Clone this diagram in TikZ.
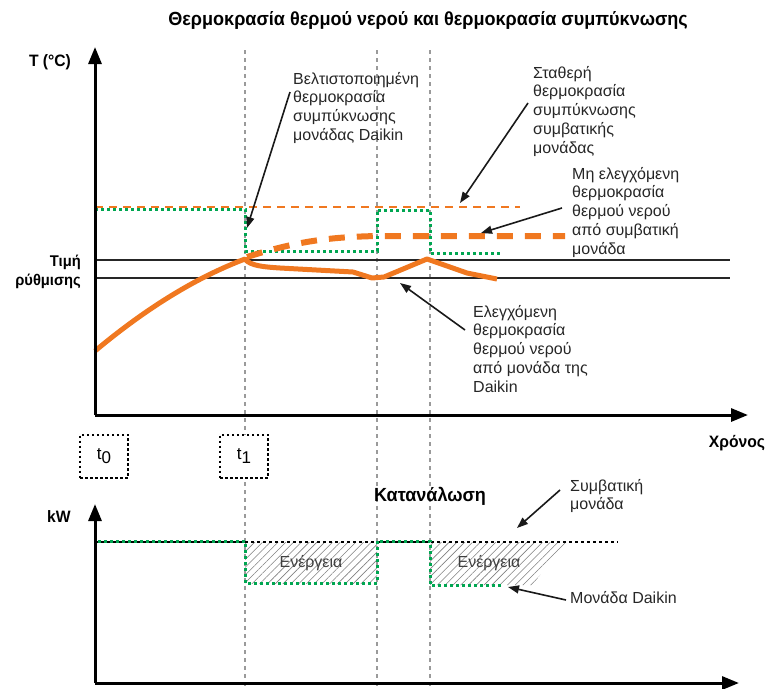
\documentclass[tikz,border=0pt]{standalone}
\usepackage{fontspec}
\setmainfont{Liberation Sans}
\newfontfamily\narrowbf[FakeStretch=0.95]{Liberation Sans Bold}
\usetikzlibrary{arrows.meta,patterns.meta}
\definecolor{orng}{HTML}{F07820}
\definecolor{grn}{HTML}{00A651}
\definecolor{gry}{HTML}{9A9A9A}
\begin{document}
\begin{tikzpicture}[x=1pt,y=-1pt,
  axis/.style={line width=3pt,-{Triangle[length=17pt,width=13pt]}},
  guide/.style={gry,line width=1.6pt,dash pattern=on 4pt off 4pt},
  setline/.style={black!85,line width=2pt},
  orthin/.style={orng,line width=2pt,dash pattern=on 8pt off 6pt},
  orthick/.style={orng,line width=6pt,dash pattern=on 16pt off 12pt},
  orsolid/.style={orng,line width=5pt,line join=round},
  grdot/.style={grn,line width=3pt,dash pattern=on 3pt off 3pt},
  bkdot/.style={black,line width=2.5pt,dash pattern=on 3pt off 3pt},
  callout/.style={black!90,line width=1.6pt,-{Triangle[length=11pt,width=8pt]}},
  lbl/.style={font=\fontsize{16}{18.7}\selectfont,align=left,inner sep=0pt,anchor=north west,text=black!85},
  hb/.style={font=\narrowbf\fontsize{16.5}{18}\selectfont,inner sep=0pt},
  tbox/.style={draw,line width=2pt,dash pattern=on 2.5pt off 2.5pt,fill=white,minimum width=48pt,minimum height=43pt,inner sep=0pt,font=\fontsize{17}{19}\selectfont},
  hatch/.style={pattern={Lines[angle=45,distance=5.5pt,line width=0.6pt]},pattern color=gray}
]
\useasboundingbox (0,0) rectangle (781,688);

% title
\node[hb,font=\narrowbf\fontsize{19}{22}\selectfont] (title) at (428,20) {Θερμοκρασία θερμού νερού και θερμοκρασία συμπύκνωσης};

% guide lines
\coordinate (ga1) at (245,50); \coordinate (ga2) at (245,688);
\coordinate (gb1) at (377,50); \coordinate (gb2) at (377,688);
\coordinate (gc1) at (430,50); \coordinate (gc2) at (430,688);
\draw[guide] (ga1) -- (ga2);
\draw[guide] (gb1) -- (gb2);
\draw[guide] (gc1) -- (gc2);

% ---------- top chart ----------
\coordinate (o1) at (95,415);
\coordinate (ytop) at (95,47);
\coordinate (xend) at (748,415);
\node[hb] (tlab) at (50,62) {T (°C)};
\node[hb] (xlab) at (737,443) {Χρόνος};
\node[hb,align=right,anchor=east,font=\narrowbf\fontsize{15.5}{18.5}\selectfont] (setlab) at (81,272) {Τιμή\\ρύθμισης};

% set point lines
\coordinate (s1a) at (95,260); \coordinate (s1b) at (730,260);
\coordinate (s2a) at (95,278); \coordinate (s2b) at (730,278);
\draw[setline] (s1a) -- (s1b);
\draw[setline] (s2a) -- (s2b);

% thin orange dashed (fixed condensing temp)
\coordinate (ot1) at (95,207); \coordinate (ot2) at (520,207);
\draw[orthin] (ot1) -- (ot2);

% green dotted (optimised condensing temp)
\draw[grdot] (95,209) -- (245,209) -- (245,251) -- (377,251) -- (377,210) -- (430,210) -- (430,253) -- (500,253);

% thick orange dashed (uncontrolled water temp)
\draw[orthick] (247,257) .. controls (300,240) and (335,237) .. (377,236) -- (565,236);

% solid orange (controlled water temp)
\draw[orsolid] (95,351) .. controls (150,305) and (200,276) .. (245,259)
  .. controls (250,266) and (265,267) .. (280,268) -- (353,272) -- (372,278) -- (384,277) -- (427,259) -- (467,273) -- (497,279);

\draw[axis] (o1) -- (ytop);
\draw[axis] (o1) -- (xend);

% labels
\node[lbl] (l1) at (293,72) {Βελτιστοποιημένη\\θερμοκρασία\\συμπύκνωσης\\μονάδας Daikin};
\node[lbl] (l2) at (533,66) {Σταθερή\\θερμοκρασία\\συμπύκνωσης\\συμβατικής\\μονάδας};
\node[lbl] (l3) at (572,167) {Μη ελεγχόμενη\\θερμοκρασία\\θερμού νερού\\από συμβατική\\μονάδα};
\node[lbl] (l4) at (473,305) {Ελεγχόμενη\\θερμοκρασία\\θερμού νερού\\από μονάδα της\\Daikin};

\coordinate (a1s) at (290,92);  \coordinate (a1t) at (247,228);
\coordinate (a2s) at (528,103); \coordinate (a2t) at (460,203);
\coordinate (a3s) at (562,208); \coordinate (a3t) at (481,233);
\coordinate (a4s) at (465,330); \coordinate (a4t) at (400,283);
\draw[callout] (a1s) -- (a1t);
\draw[callout] (a2s) -- (a2t);
\draw[callout] (a3s) -- (a3t);
\draw[callout] (a4s) -- (a4t);

% time boxes
\node[tbox] (t0) at (104,456) {t\raisebox{-4pt}{0}};
\node[tbox] (t1) at (244,456) {t\raisebox{-4pt}{1}};

% ---------- bottom chart ----------
\coordinate (o2) at (95,683);
\coordinate (ytop2) at (95,504);
\coordinate (xend2) at (739,683);
\node[hb] (kwlab) at (59,517) {kW};
\node[hb,font=\narrowbf\fontsize{19}{22}\selectfont] (cons) at (430,496) {Κατανάλωση};

% hatched energy areas
\fill[hatch] (245,542) rectangle (377,583);
\fill[hatch] (430,542) -- (567,542) -- (532,585) -- (430,585) -- cycle;
\node[font=\fontsize{16}{18}\selectfont,text=black!75] (e1) at (311,563) {Ενέργεια};
\node[font=\fontsize{16}{18}\selectfont,text=black!75] (e2) at (489,563) {Ενέργεια};

% conventional unit (black dotted) and Daikin (green dotted)
\coordinate (b1) at (95,542); \coordinate (b2) at (618,542);
\draw[bkdot] (b1) -- (b2);
\draw[grdot,dash phase=3pt] (95,541) -- (245,541) -- (245,583) -- (377,583) -- (377,541) -- (430,541) -- (430,585) -- (501,585);

\draw[axis] (o2) -- (ytop2);
\draw[axis] (o2) -- (xend2);

\node[lbl] (l5) at (570,479) {Συμβατική\\μονάδα};
\node[lbl,anchor=west] (l6) at (570,598) {Μονάδα Daikin};
\coordinate (a5s) at (560,490); \coordinate (a5t) at (517,528);
\coordinate (a6s) at (566,600); \coordinate (a6t) at (508,587);
\draw[callout] (a5s) -- (a5t);
\draw[callout] (a6s) -- (a6t);
\end{tikzpicture}
\end{document}
